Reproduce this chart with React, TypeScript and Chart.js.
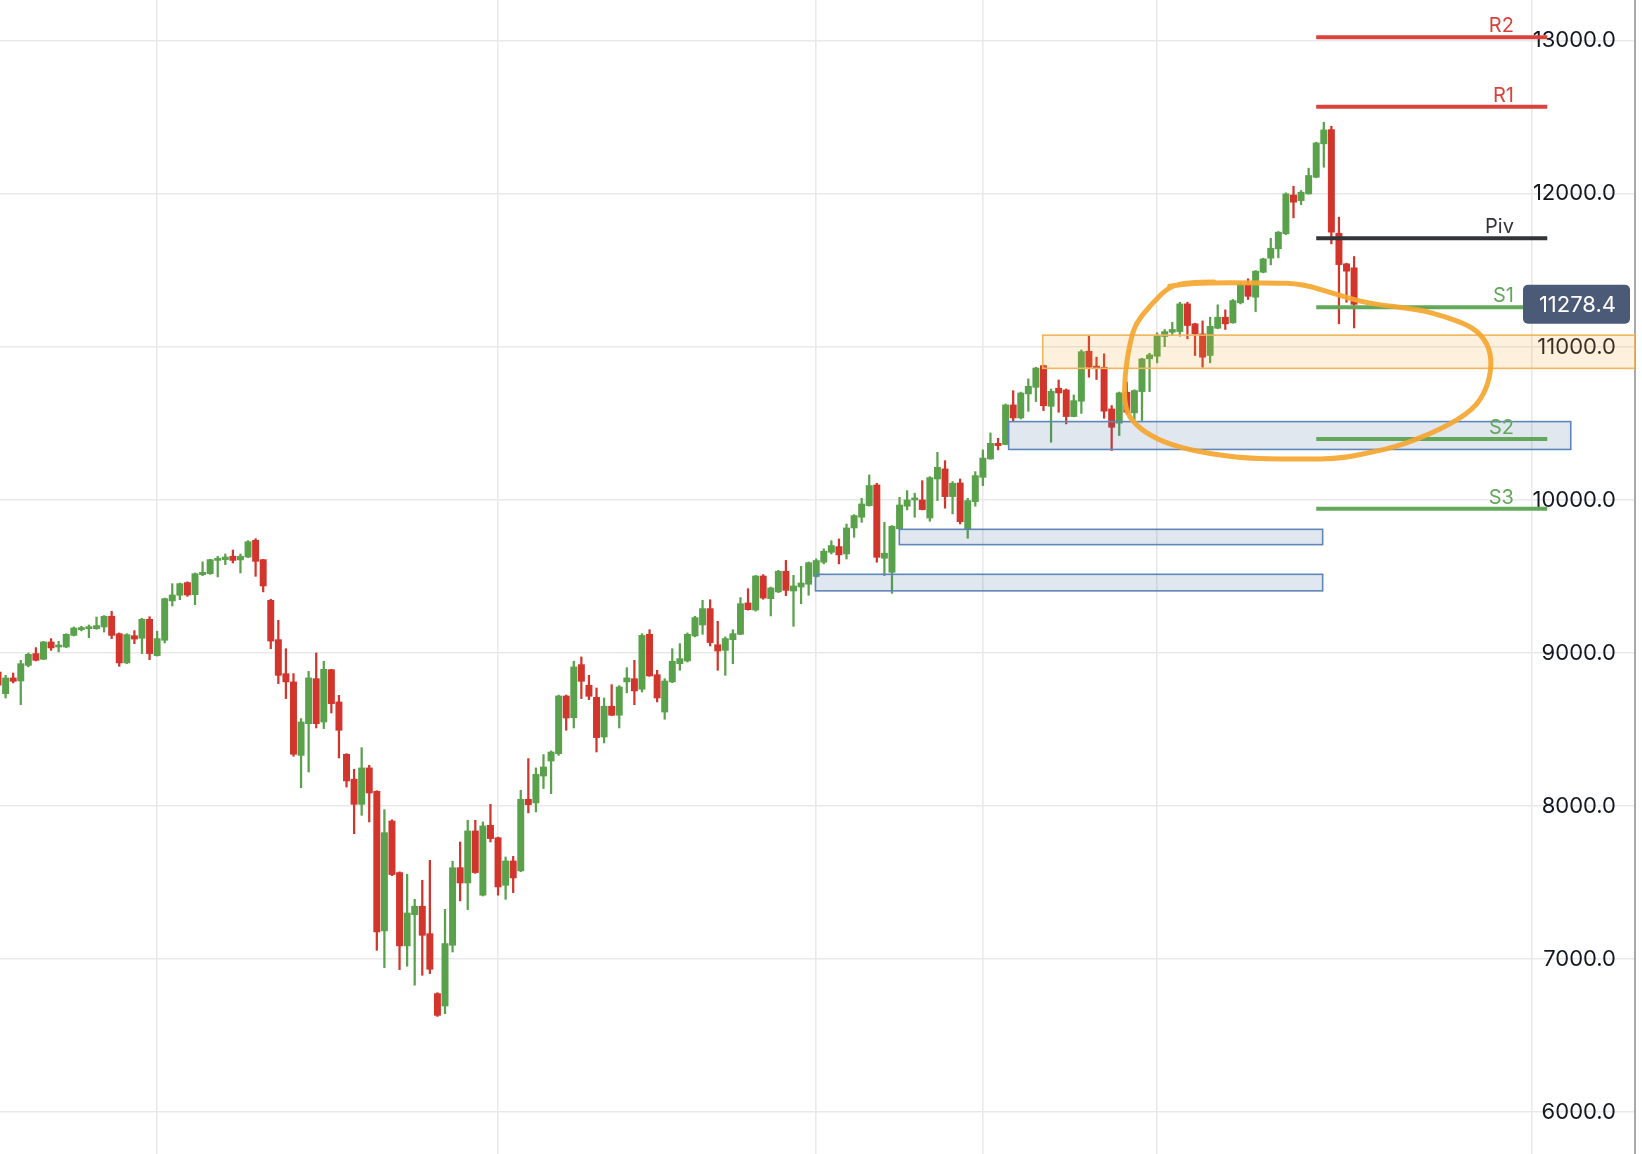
import { useEffect, useRef } from 'react';
import { Chart, registerables } from 'chart.js';

Chart.register(...registerables);

// ---- candle data (index = trading session) ----
const opens = [
  8876, 8734, 8837, 8817, 8919, 8996, 8959, 9072, 9039, 9039, 9115, 9152, 9159, 9159, 9170, 9240, 9126, 8935, 9113, 9096,
  9220, 8983, 9083, 9340, 9377, 9460, 9381, 9512, 9518, 9605, 9610, 9632, 9608, 9627, 9736, 9610, 9344, 9087, 8865, 8811,
  8331, 8538, 8832, 8549, 8891, 8680, 8338, 8175, 8011, 8249, 8096, 7184, 7902, 7565, 7086, 7290, 7345, 7166, 6774, 6693,
  7090, 7597, 7497, 7837, 7417, 7874, 7793, 7482, 7641, 7576, 8044, 8020, 8196, 8294, 8342, 8719, 8577, 8924, 8789, 8710,
  8451, 8652, 8593, 8811, 8832, 8763, 9122, 8858, 8614, 8811, 8930, 8948, 9111, 9183, 9290, 9054, 9017, 9087, 9122, 9327,
  9281, 9503, 9355, 9399, 9534, 9405, 9431, 9449, 9500, 9593, 9658, 9695, 9647, 9817, 9887, 9963, 10098, 9619, 9527, 9811,
  9959, 10000, 10000, 9882, 10137, 10203, 10022, 10111, 9811, 9989, 10148, 10268, 10370, 10362, 10621, 10536, 10693, 10736, 10878, 10612,
  10730, 10719, 10545, 10645, 10972, 10874, 10867, 10595, 10502, 10704, 10569, 10708, 10922, 10939, 11068, 11096, 11100, 11281, 11151, 11085,
  10944, 11122, 11194, 11157, 11288, 11408, 11325, 11488, 11580, 11641, 11739, 11993, 11956, 12000, 12109, 12327, 12420, 11743, 11543, 11517,
];
const highs = [
  8887, 8854, 8869, 8952, 9000, 9035, 9076, 9094, 9076, 9126, 9170, 9174, 9183, 9235, 9244, 9272, 9131, 9126, 9146, 9227,
  9237, 9142, 9359, 9453, 9457, 9465, 9523, 9595, 9612, 9632, 9647, 9673, 9647, 9734, 9747, 9612, 9351, 9213, 9028, 8865,
  8571, 8880, 9000, 8946, 8893, 8723, 8342, 8240, 8381, 8266, 8100, 7976, 7910, 7570, 7554, 7390, 7515, 7645, 6780, 7325,
  7639, 7765, 7907, 7907, 7896, 8011, 7797, 7667, 7671, 8103, 8310, 8249, 8336, 8360, 8725, 8725, 8946, 8974, 8854, 8771,
  8706, 8793, 8787, 8904, 8952, 9126, 9152, 8887, 8832, 9028, 9061, 9131, 9240, 9344, 9348, 9207, 9105, 9152, 9362, 9420,
  9507, 9512, 9431, 9540, 9605, 9507, 9566, 9595, 9615, 9680, 9734, 9745, 9843, 9904, 10011, 10163, 10109, 9854, 9832, 10017,
  10061, 10044, 10126, 10152, 10311, 10257, 10120, 10137, 10011, 10185, 10327, 10438, 10403, 10627, 10714, 10705, 10791, 10867, 10882, 10725,
  10784, 10725, 10686, 10980, 11074, 10933, 10955, 10617, 10705, 10769, 10720, 10926, 10959, 11092, 11114, 11161, 11292, 11292, 11155, 11170,
  11194, 11275, 11242, 11310, 11423, 11445, 11499, 11580, 11710, 11754, 12007, 12050, 12022, 12168, 12338, 12468, 12442, 11848, 11547, 11591,
];
const lows = [
  8778, 8706, 8804, 8662, 8909, 8948, 8956, 9017, 9007, 9035, 9111, 9144, 9100, 9155, 9137, 9094, 8913, 8930, 9061, 8996,
  8956, 8980, 9065, 9307, 9348, 9370, 9316, 9505, 9514, 9497, 9577, 9588, 9523, 9623, 9501, 9399, 9028, 8800, 8702, 8325,
  8120, 8222, 8510, 8506, 8608, 8314, 8124, 7819, 7939, 7896, 7057, 6944, 7545, 6931, 6953, 6829, 6894, 6905, 6625, 6643,
  7046, 7380, 7323, 7560, 7412, 7765, 7417, 7390, 7434, 7570, 7955, 7961, 8114, 8081, 8331, 8495, 8510, 8702, 8695, 8353,
  8412, 8590, 8510, 8739, 8662, 8745, 8848, 8680, 8567, 8806, 8887, 8941, 9105, 9122, 9046, 8887, 8854, 8930, 9120, 9280,
  9274, 9351, 9242, 9395, 9375, 9174, 9322, 9377, 9495, 9582, 9647, 9582, 9614, 9756, 9854, 9960, 9593, 9506, 9390, 9809,
  9935, 9887, 9935, 9861, 9996, 9946, 9909, 9843, 9750, 9959, 10094, 10266, 10327, 10360, 10518, 10529, 10579, 10643, 10584, 10377,
  10573, 10497, 10543, 10566, 10802, 10787, 10534, 10323, 10421, 10562, 10525, 10519, 10708, 10896, 11002, 11074, 11070, 11053, 10944, 10867,
  10896, 11118, 11114, 11155, 11281, 11310, 11231, 11484, 11536, 11582, 11734, 11843, 11930, 11998, 12105, 12174, 11673, 11151, 11292, 11124,
];
const closes = [
  8789, 8837, 8815, 8930, 8991, 8952, 9072, 9033, 9050, 9122, 9163, 9166, 9170, 9179, 9240, 9115, 8935, 9120, 9091, 9220,
  8996, 9094, 9355, 9379, 9453, 9379, 9518, 9527, 9610, 9619, 9627, 9605, 9632, 9727, 9599, 9438, 9078, 8854, 8811, 8338,
  8549, 8837, 8538, 8893, 8669, 8495, 8164, 8011, 8249, 8085, 7177, 7826, 7552, 7086, 7301, 7345, 7155, 6933, 6632, 7101,
  7597, 7497, 7837, 7565, 7870, 7787, 7471, 7641, 7530, 8044, 8009, 8207, 8255, 8353, 8719, 8575, 8909, 8815, 8717, 8447,
  8652, 8593, 8778, 8837, 8752, 9115, 8850, 8706, 8817, 8946, 8963, 9122, 9231, 9290, 9068, 9013, 9094, 9126, 9322, 9283,
  9503, 9359, 9425, 9534, 9409, 9438, 9457, 9590, 9604, 9665, 9702, 9641, 9817, 9898, 9974, 10094, 9625, 9652, 9828, 9967,
  10000, 10011, 9937, 10146, 10213, 10022, 10109, 9858, 9996, 10159, 10274, 10370, 10355, 10621, 10536, 10699, 10743, 10862, 10616, 10710,
  10699, 10545, 10649, 10969, 10867, 10861, 10580, 10475, 10700, 10573, 10715, 10922, 10948, 11074, 11100, 11114, 11281, 11140, 11085, 10933,
  11135, 11194, 11151, 11303, 11408, 11331, 11495, 11575, 11645, 11750, 12000, 11946, 12011, 12120, 12333, 12418, 11750, 11538, 11495, 11278.4,
];

const lastPrice = 11278.4;

// ---- axes ----
const yTicks = [6000, 7000, 8000, 9000, 10000, 11000, 12000, 13000];
const xGridAt = [21, 66, 108, 130, 153, 202.5];
const xMin = 0.26;
const xMax = 216.08;
const yMin = 5726;
const yMax = 13267;

// ---- pivot levels ----
const pivotLabels = ['R2', 'R1', 'Piv', 'S1', 'S2', 'S3'];
const pivotValues = [13023, 12570, 11710, 11260, 10398, 9942];
const pivotColors = ['#d9423d', '#d9423d', '#333438', '#63a85a', '#63a85a', '#63a85a'];
const pivotStart = 174.0;
const pivotEnd = 204.5;
const pivotLabelAt = 200.1;

// ---- zones (boxes) ----
const zoneStart = [137.9, 133.4, 118.97, 107.9];
const zoneEnd = [xMax, 207.6, 174.85, 174.85];
const zoneTop = [11077, 10512, 9808, 9514];
const zoneBottom = [10860, 10330, 9708, 9406];
const zoneFill = ['rgba(242,170,60,0.17)', 'rgba(70,110,160,0.17)', 'rgba(70,110,160,0.17)', 'rgba(70,110,160,0.17)'];
const zoneStroke = ['#f1b45a', '#5f86b8', '#5f86b8', '#5f86b8'];

// ---- hand-drawn ring ----
const ringIdx = [154.66, 157.15, 167.94, 172.2, 176.6, 181.06, 187.4, 191.0, 194.75, 196.7, 197.2, 196.5, 194.75, 190.6, 185.2, 181.06, 176.6, 169.2, 163.5, 156.9, 152.9, 150.2, 148.7, 148.7, 149.4, 150.2, 152.4, 154.66, 157.15, 160.5];
const ringVal = [11397, 11420, 11420, 11411, 11344, 11281, 11246, 11198, 11129, 11020, 10883, 10725, 10589, 10465, 10356, 10308, 10267, 10267, 10275, 10328, 10397, 10486, 10595, 10808, 11027, 11157, 11287, 11397, 11420, 11425];

const GREEN = '#5aa14c';
const RED = '#d1352c';
const FONT = 'Inter, "Noto Sans", sans-serif';

const overlayPlugin = {
  id: 'overlay',
  afterDatasetsDraw(chart: any) {
    const { ctx, chartArea, scales } = chart;
    const x = scales.x;
    const y = scales.y;
    ctx.save();
    ctx.beginPath();
    ctx.rect(chartArea.left, chartArea.top, chartArea.right - chartArea.left, chartArea.bottom - chartArea.top);
    ctx.clip();

    // zones
    for (let k = 0; k < zoneStart.length; k++) {
      const x0 = x.getPixelForValue(zoneStart[k]);
      const x1 = Math.min(x.getPixelForValue(zoneEnd[k]), chartArea.right);
      const y0 = y.getPixelForValue(zoneTop[k]);
      const y1 = y.getPixelForValue(zoneBottom[k]);
      ctx.fillStyle = zoneFill[k];
      ctx.fillRect(x0, y0, x1 - x0, y1 - y0);
      ctx.strokeStyle = zoneStroke[k];
      ctx.lineWidth = 1.6;
      ctx.strokeRect(x0, y0, x1 - x0, y1 - y0);
    }

    // pivot lines
    const px0 = x.getPixelForValue(pivotStart);
    const px1 = x.getPixelForValue(pivotEnd);
    const pl = x.getPixelForValue(pivotLabelAt);
    for (let k = 0; k < pivotValues.length; k++) {
      const py = y.getPixelForValue(pivotValues[k]);
      ctx.strokeStyle = pivotColors[k];
      ctx.lineWidth = 4;
      ctx.beginPath();
      ctx.moveTo(px0, py);
      ctx.lineTo(px1, py);
      ctx.stroke();
      ctx.fillStyle = pivotColors[k];
      ctx.font = `20px ${FONT}`;
      ctx.textAlign = 'right';
      ctx.textBaseline = 'alphabetic';
      ctx.fillText(pivotLabels[k], pl, py - 5);
    }

    // ring
    const pts = ringIdx.map((v, i) => [x.getPixelForValue(v), y.getPixelForValue(ringVal[i])]);
    ctx.strokeStyle = 'rgba(245,166,48,0.92)';
    ctx.lineWidth = 5;
    ctx.lineJoin = 'round';
    ctx.lineCap = 'round';
    ctx.beginPath();
    ctx.moveTo(pts[0][0], pts[0][1]);
    for (let i = 1; i < pts.length - 1; i++) {
      const mx = (pts[i][0] + pts[i + 1][0]) / 2;
      const my = (pts[i][1] + pts[i + 1][1]) / 2;
      ctx.quadraticCurveTo(pts[i][0], pts[i][1], mx, my);
    }
    ctx.lineTo(pts[pts.length - 1][0], pts[pts.length - 1][1]);
    ctx.stroke();

    // last price label
    const ly = y.getPixelForValue(lastPrice);
    const bx0 = chartArea.right - 112;
    const bx1 = chartArea.right - 5;
    ctx.fillStyle = '#4b5a77';
    ctx.beginPath();
    if ((ctx as any).roundRect) {
      (ctx as any).roundRect(bx0, ly - 19.5, bx1 - bx0, 39, 5);
    } else {
      ctx.rect(bx0, ly - 19.5, bx1 - bx0, 39);
    }
    ctx.fill();
    ctx.fillStyle = '#ffffff';
    ctx.font = `22px ${FONT}`;
    ctx.textAlign = 'right';
    ctx.textBaseline = 'middle';
    ctx.fillText(lastPrice.toFixed(1), chartArea.right - 19, ly + 1);

    ctx.restore();
  },
};

export default function App() {
  const ref = useRef<HTMLCanvasElement | null>(null);

  useEffect(() => {
    document.body.style.margin = '0';
    document.body.style.overflow = 'hidden';
    const canvas = ref.current;
    if (!canvas) return;
    const colors = opens.map((o, i) => (closes[i] >= o ? GREEN : RED));
    const chart = new Chart(canvas, {
      type: 'bar',
      data: {
        datasets: [
          {
            label: 'wick',
            data: opens.map((_, i) => ({ x: i, y: [lows[i], highs[i]] })) as any,
            backgroundColor: colors,
            barThickness: 1.6,
            grouped: false,
            order: 2,
          } as any,
          {
            label: 'body',
            data: opens.map((o, i) => ({ x: i, y: [o, closes[i]] })) as any,
            backgroundColor: colors,
            barThickness: 6.3,
            minBarLength: 2,
            grouped: false,
            order: 1,
          } as any,
        ],
      },
      options: {
        animation: false,
        responsive: false,
        maintainAspectRatio: false,
        layout: { padding: { left: 0, right: 7, top: 0, bottom: 0 } },
        plugins: { legend: { display: false }, tooltip: { enabled: false } },
        scales: {
          x: {
            type: 'linear',
            min: xMin,
            max: xMax,
            offset: false,
            afterBuildTicks: (axis: any) => {
              axis.ticks = xGridAt.map((v) => ({ value: v }));
            },
            ticks: { display: false },
            grid: { color: '#e9e9e9', lineWidth: 1.6, drawTicks: false, offset: false },
            border: { display: false },
          },
          y: {
            type: 'linear',
            position: 'right',
            min: yMin,
            max: yMax,
            afterBuildTicks: (axis: any) => {
              axis.ticks = yTicks.map((v) => ({ value: v }));
            },
            ticks: {
              mirror: true,
              padding: -19,
              crossAlign: 'near',
              color: '#131722',
              font: { family: FONT, size: 22 },
              callback: (v: any) => Number(v).toFixed(1),
            },
            grid: { color: '#e9e9e9', lineWidth: 1.6, drawTicks: false, offset: false },
            border: { display: true, color: '#a9a9a9', width: 2 },
          },
        },
      } as any,
      plugins: [overlayPlugin],
    });
    return () => chart.destroy();
  }, []);

  return (
    <div style={{ width: 1642, height: 1154 }}>
      <canvas ref={ref} width={1642} height={1154} style={{ display: 'block' }} />
    </div>
  );
}
